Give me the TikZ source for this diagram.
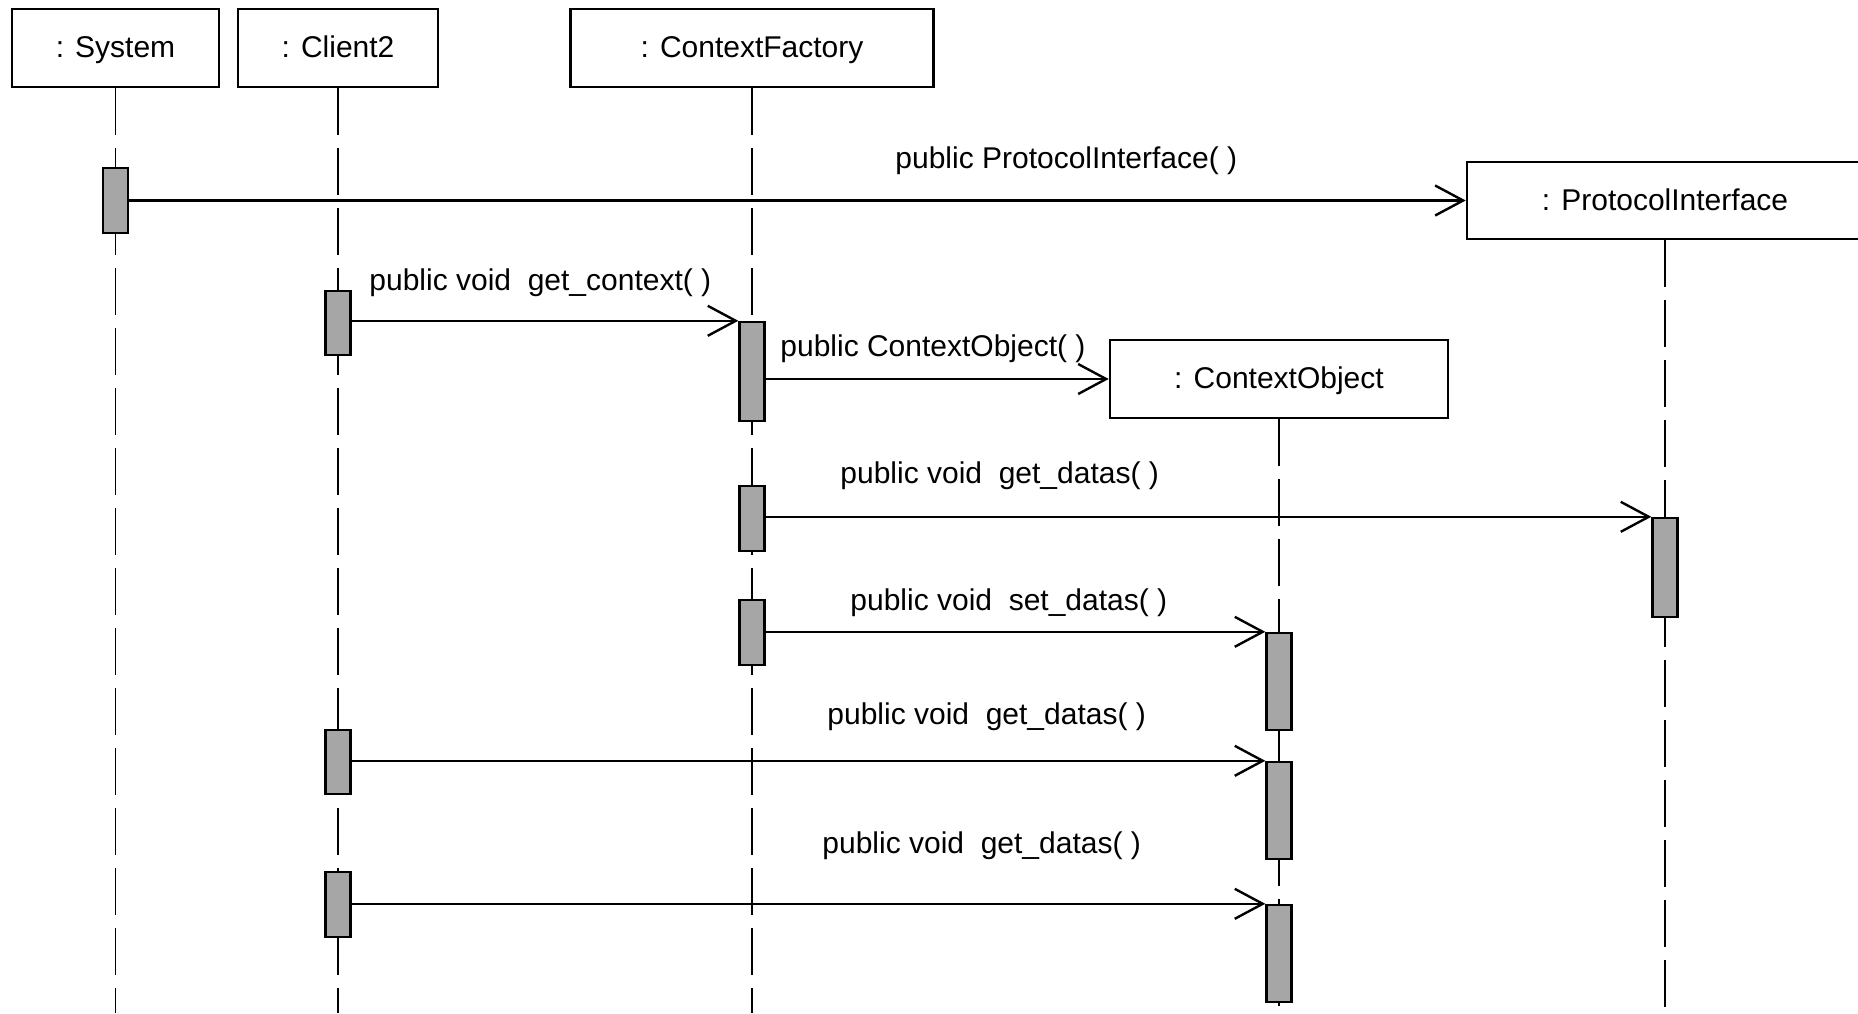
\documentclass[tikz,border=0pt]{standalone}
\usepackage{fontspec}
\setmainfont{Liberation Sans}
\usetikzlibrary{arrows.meta}
\definecolor{barg}{RGB}{166,166,166}
\begin{document}
\begin{tikzpicture}[x=0.5pt,y=-0.5pt,
  lab/.style={font=\fontsize{15pt}{18pt}\selectfont},
  obj/.style={draw, line width=1.3pt, fill=white, inner sep=0pt, lab,
    text height=0.95em, text depth=0pt},
  bar/.style={draw, line width=1.2pt, fill=barg, minimum width=12.5pt, inner sep=0pt},
  life/.style={line width=0.9pt, dash pattern=on 23.5pt off 6.5pt},
  msg/.style={line width=1.2pt, -{Straight Barb[length=14pt,width=15pt,line width=1.2pt]}},
  lbl/.style={anchor=base west, inner sep=0pt, lab}]
\useasboundingbox (0,0) rectangle (1858,1013);
\coordinate (bot) at (0,1013);

% objects
\node[obj, minimum width=103.5pt, minimum height=39pt] (sys) at (115.5,48) {: System};
\node[obj, minimum width=100pt, minimum height=39pt] (cli) at (338,48) {: Client2};
\node[obj, minimum width=181.5pt, minimum height=39pt] (cf) at (752,48) {: ContextFactory};
\node[obj, minimum width=198pt, minimum height=38.5pt] (pi) at (1665,200.5) {: ProtocolInterface};
\node[obj, minimum width=169pt, minimum height=39pt] (co) at (1279,379) {: ContextObject};

% lifelines
\foreach \o in {sys,cli,cf,pi,co}
  \draw[life] (\o.south) -- (\o.south |- bot);

% activation bars
\node[bar, minimum height=32.5pt] (sysb)  at (115.5,200.5) {};
\node[bar, minimum height=32pt]   (clib1) at (338,323) {};
\node[bar, minimum height=49.5pt] (cfb1)  at (752,371.5) {};
\node[bar, minimum height=32.5pt] (cfb2)  at (752,518.5) {};
\node[bar, minimum height=32.5pt] (cfb3)  at (752,632.5) {};
\node[bar, minimum height=49.5pt] (pib)   at (1665,567.5) {};
\node[bar, minimum height=48.5pt] (cob1)  at (1279,681.5) {};
\node[bar, minimum height=32pt]   (clib2) at (338,762) {};
\node[bar, minimum height=48.5pt] (cob2)  at (1279,810.5) {};
\node[bar, minimum height=32.5pt] (clib3) at (338,904.5) {};
\node[bar, minimum height=48.5pt] (cob3)  at (1279,953.5) {};

% messages
\draw[msg] (sysb.east |- pi.west) -- (pi.west);
\draw[msg] (clib1.east |- cfb1.north west) -- (cfb1.north west);
\draw[msg] (cfb1.east |- co.west) -- (co.west);
\draw[msg] (cfb2.east |- pib.north west) -- (pib.north west);
\draw[msg] (cfb3.east |- cob1.north west) -- (cob1.north west);
\draw[msg] (clib2.east |- cob2.north west) -- (cob2.north west);
\draw[msg] (clib3.east |- cob3.north west) -- (cob3.north west);

% message labels
\node[lbl] (m1) at (895,168.5) {public ProtocolInterface( )};
\node[lbl] (m2) at (369,290.5) {public void\ \ get\_context( )};
\node[lbl] (m3) at (780,356.5) {public ContextObject( )};
\node[lbl] (m4) at (840,483.5) {public void\ \ get\_datas( )};
\node[lbl] (m5) at (850,610.5) {public void\ \ set\_datas( )};
\node[lbl] (m6) at (827,724.5) {public void\ \ get\_datas( )};
\node[lbl] (m7) at (822,853.5) {public void\ \ get\_datas( )};
\end{tikzpicture}
\end{document}
